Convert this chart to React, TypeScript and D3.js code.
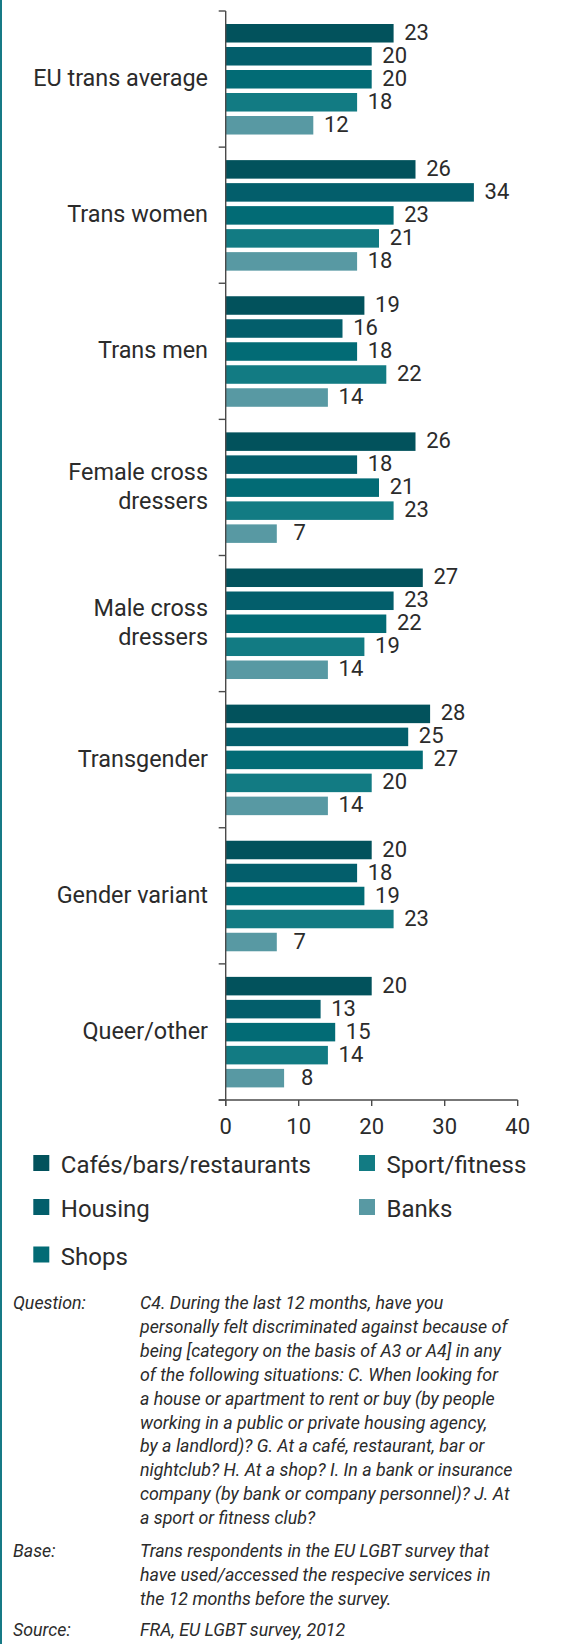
import React from "react";
import * as d3 from "d3";

const categories: string[][] = [
  ["EU trans average"],
  ["Trans women"],
  ["Trans men"],
  ["Female cross", "dressers"],
  ["Male cross", "dressers"],
  ["Transgender"],
  ["Gender variant"],
  ["Queer/other"],
];

const seriesNames = ["Cafés/bars/restaurants", "Housing", "Shops", "Sport/fitness", "Banks"];
const seriesColors = ["#02525c", "#035e6b", "#026b75", "#127b83", "#5899a3"];

const cafes = [23, 26, 19, 26, 27, 28, 20, 20];
const housing = [20, 34, 16, 18, 23, 25, 18, 13];
const shops = [20, 23, 18, 21, 22, 27, 19, 15];
const sport = [18, 21, 22, 23, 19, 20, 23, 14];
const banks = [12, 18, 14, 7, 14, 14, 7, 8];

const xTicks = [0, 10, 20, 30, 40];

const questionLines = [
  "C4. During the last 12 months, have you",
  "personally felt discriminated against because of",
  "being [category on the basis of A3 or A4] in any",
  "of the following situations: C. When looking for",
  "a house or apartment to rent or buy (by people",
  "working in a public or private housing agency,",
  "by a landlord)? G. At a café, restaurant, bar or",
  "nightclub? H. At a shop? I. In a bank or insurance",
  "company (by bank or company personnel)? J. At",
  "a sport or fitness club?",
];
const baseLines = [
  "Trans respondents in the EU LGBT survey that",
  "have used/accessed the respecive services in",
  "the 12 months before the survey.",
];
const sourceLines = ["FRA, EU LGBT survey, 2012"];

const series = [cafes, housing, shops, sport, banks];

export default function App() {
  const W = 561;
  const H = 1644;
  const x0 = 225.7;
  const x1 = 517.7;
  const yTop = 11;
  const yBot = 1100;
  const font = "Roboto, 'Noto Sans', sans-serif";
  const textColor = "#2b2b2b";

  const x = d3.scaleLinear().domain([0, 40]).range([x0, x1]);
  const yGroup = d3
    .scaleBand<number>()
    .domain(d3.range(categories.length))
    .range([yTop, yBot])
    .padding(0);
  const gh = yGroup.bandwidth();
  const yInner = d3
    .scaleBand<number>()
    .domain(d3.range(seriesNames.length))
    .range([13, gh - 12.6])
    .paddingInner(0.195)
    .paddingOuter(0);
  const bh = yInner.bandwidth();

  const legendItems = [
    { i: 0, col: 0, row: 0 },
    { i: 1, col: 0, row: 1 },
    { i: 2, col: 0, row: 2 },
    { i: 3, col: 1, row: 0 },
    { i: 4, col: 1, row: 1 },
  ];
  const legendRowY = [1155, 1199, 1246.5];
  const legendColX = [33.3, 359];

  const notes = [
    { label: "Question:", lines: questionLines, y: 1309 },
    { label: "Base:", lines: baseLines, y: 1556.7 },
    { label: "Source:", lines: sourceLines, y: 1636 },
  ];

  return (
    <div style={{ position: "absolute", left: 0, top: 0 }}>
      <svg width={W} height={H} style={{ display: "block" }}>
        <rect x={0} y={0} width={W} height={H} fill="#ffffff" />
        <rect x={0} y={0} width={2} height={H} fill="#167a86" />

        {/* bars */}
        {categories.map((cat, gi) => {
          const gy = yGroup(gi)!;
          return (
            <g key={gi}>
              {series.map((vals, si) => {
                const by = gy + yInner(si)!;
                const v = vals[gi];
                return (
                  <g key={si}>
                    <rect
                      x={x(0)}
                      y={by}
                      width={x(v) - x(0)}
                      height={bh}
                      fill={seriesColors[si]}
                    />
                    <text
                      x={x(v) + 23}
                      y={by + bh / 2 + 6.5}
                      textAnchor="middle"
                      fontFamily={font}
                      fontSize={22}
                      fill={textColor}
                    >
                      {v}
                    </text>
                  </g>
                );
              })}
              {cat.map((line, li) => (
                <text
                  key={li}
                  x={208}
                  y={gy + gh / 2 + 7 - ((cat.length - 1) * 29.5) / 2 + li * 29.5}
                  textAnchor="end"
                  fontFamily={font}
                  fontSize={23.4}
                  fill={textColor}
                >
                  {line}
                </text>
              ))}
            </g>
          );
        })}

        {/* y axis */}
        <line x1={x0} x2={x0} y1={yTop} y2={yBot + 6} stroke="#4a4a4a" strokeWidth={1.4} />
        {d3.range(categories.length + 1).map((k) => {
          const yy = k < categories.length ? yGroup(k)! : yBot;
          return (
            <line key={k} x1={x0 - 7} x2={x0} y1={yy} y2={yy} stroke="#4a4a4a" strokeWidth={1.4} />
          );
        })}

        {/* x axis */}
        <line x1={x0 - 7} x2={x1} y1={yBot} y2={yBot} stroke="#4a4a4a" strokeWidth={1.4} />
        {xTicks.map((t) => (
          <g key={t}>
            <line x1={x(t)} x2={x(t)} y1={yBot} y2={yBot + 6} stroke="#4a4a4a" strokeWidth={1.4} />
            <text
              x={x(t)}
              y={1133.5}
              textAnchor="middle"
              fontFamily={font}
              fontSize={22}
              fill={textColor}
            >
              {t}
            </text>
          </g>
        ))}

        {/* legend */}
        {legendItems.map((it) => (
          <g key={it.i}>
            <rect
              x={legendColX[it.col]}
              y={legendRowY[it.row]}
              width={16}
              height={16}
              fill={seriesColors[it.i]}
            />
            <text
              x={legendColX[it.col] + 27.5}
              y={legendRowY[it.row] + 18}
              fontFamily={font}
              fontSize={24}
              fill={textColor}
            >
              {seriesNames[it.i]}
            </text>
          </g>
        ))}

        {/* notes */}
        {notes.map((n, ni) => (
          <g key={ni}>
            <text
              x={13}
              y={n.y}
              fontFamily={font}
              fontStyle="italic"
              fontSize={17.8}
              fill={textColor}
            >
              {n.label}
            </text>
            {n.lines.map((l, li) => (
              <text
                key={li}
                x={140}
                y={n.y + li * 23.9}
                fontFamily={font}
                fontStyle="italic"
                fontSize={17.8}
                fill={textColor}
              >
                {l}
              </text>
            ))}
          </g>
        ))}
      </svg>
    </div>
  );
}
